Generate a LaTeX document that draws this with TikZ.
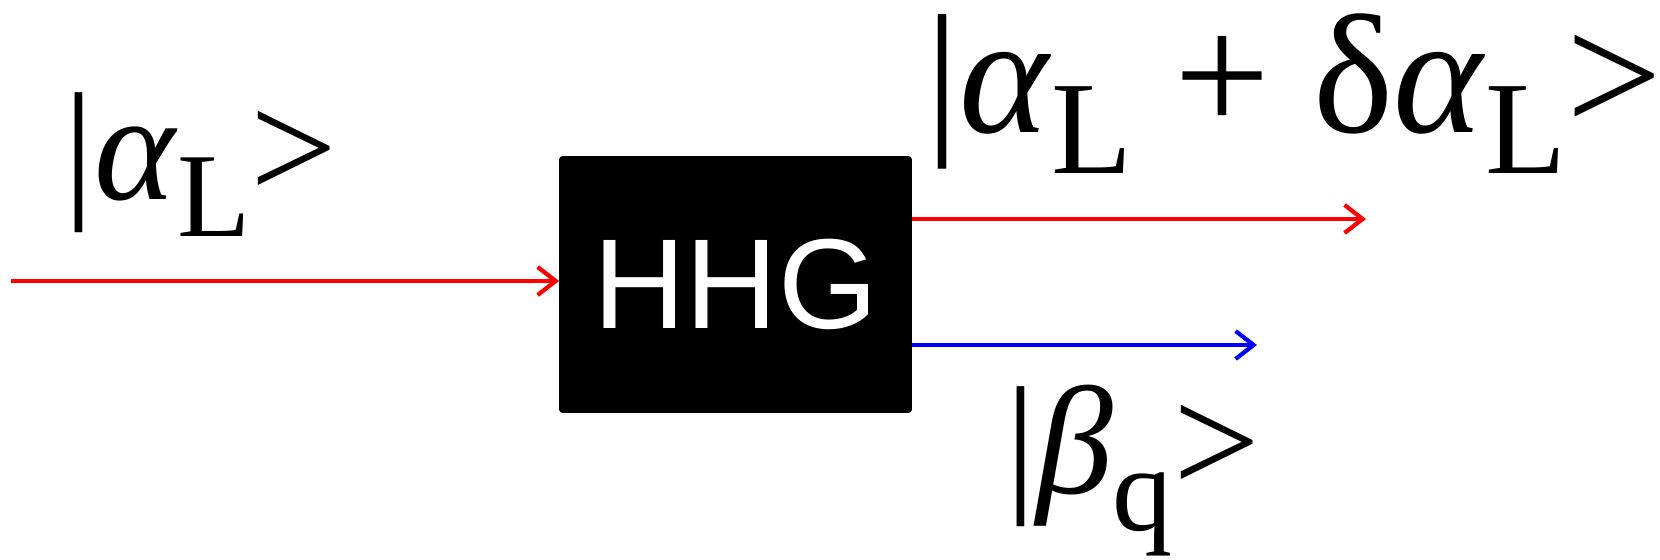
\documentclass[tikz,border=0pt]{standalone}
\usepackage{fontspec}
\setmainfont{Liberation Serif}
\newfontfamily\boxfont{Liberation Sans}
\usetikzlibrary{positioning,arrows.meta}
\newcommand{\lsub}[1]{\raisebox{-0.24em}{\fontsize{0.78em}{0.78em}\selectfont #1}}
\tikzset{
  blackbox/.style={rectangle,fill=black,draw=black,rounded corners=1.5pt,
    minimum width=176pt,minimum height=128pt,inner sep=0pt,
    text=white,font=\boxfont\fontsize{64}{64}\selectfont},
  ket/.style={anchor=base west,inner sep=0pt,font=\fontsize{77}{77}\selectfont},
  bigket/.style={ket,font=\fontsize{85}{85}\selectfont},
  redbeam/.style={draw=red,line width=2.1pt,-{Straight Barb[length=9pt,width=14pt]}},
  bluebeam/.style={draw=blue,line width=2.1pt,-{Straight Barb[length=9pt,width=14pt]}},
}
\begin{document}
\begin{tikzpicture}[x=0.5pt,y=-0.5pt]
  \useasboundingbox (0,0) rectangle (1660,560);
  % HHG block
  \node[blackbox] (hhg) at (735.5,284.5) {HHG};
  % beam ends
  \coordinate (inL) at (11,281);
  \coordinate (outR) at (1366,219);
  \coordinate (outB) at (1257,345);
  \draw[redbeam] (inL) -- (inL -| hhg.west);
  \draw[redbeam] (hhg.east |- outR) -- (outR);
  \draw[bluebeam] (hhg.east |- outB) -- (outB);
  % states
  \node[ket] (kin) at (63,200) {|\textit{α}\lsub{L}>};
  \node[bigket] (kout) at (925,133) {|\textit{α}\lsub{L} + δ\textit{α}\lsub{L}>};
  \node[ket] (kq) at (1005,494) {|\textit{β}\lsub{q}>};
\end{tikzpicture}
\end{document}
